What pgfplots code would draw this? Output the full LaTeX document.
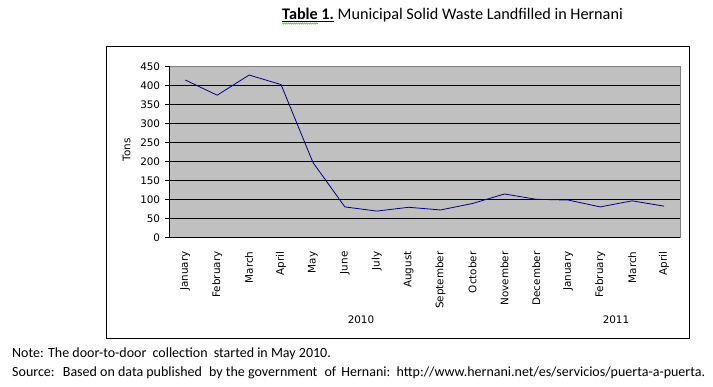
\documentclass[border=0pt]{standalone}
\usepackage{fontspec}
\setmainfont{Carlito}
\newfontfamily\tickfont{DejaVu Sans}
\usepackage{pgfplots}
\pgfplotsset{compat=1.18}
\usetikzlibrary{decorations.pathmorphing}
\definecolor{plotgray}{RGB}{192,192,192}
\definecolor{bordergray}{RGB}{128,128,128}
\definecolor{navyline}{RGB}{0,0,128}
\definecolor{spellgreen}{RGB}{60,160,60}
\newcommand{\tf}{\tickfont\fontsize{10.4}{12.5}\selectfont}
\begin{document}
\begin{tikzpicture}
\useasboundingbox (0,0) rectangle (713pt,-386pt);
\draw[black, line width=1pt] (106pt,-46pt) rectangle (689pt,-338pt);
\begin{axis}[
 at={(169.3pt,-237.3pt)}, anchor=south west,
 width=510.7pt, height=171pt, scale only axis,
 xmin=-0.5, xmax=15.5, ymin=0, ymax=450,
 axis lines*=left,
 axis line style={black, line width=0.8pt},
 axis background/.style={fill=plotgray, draw=bordergray, line width=0.8pt},
 xtick={0,...,15},
 xticklabels={January,February,March,April,May,June,July,August,September,October,November,December,January,February,March,April},
 x tick label style={rotate=90, anchor=east, inner sep=0pt, font=\tf},
 xticklabel shift=10pt,
 xtick style={draw=none},
 ytick={0,50,...,450},
 y tick label style={anchor=east, inner sep=0pt, font=\tf},
 yticklabel shift=5pt,
 tick align=outside,
 major tick length=4pt,
 ytick style={black, line width=0.8pt},
 extra y ticks={50,100,...,400},
 extra y tick labels={},
 extra y tick style={grid=major, major grid style={black, line width=0.8pt}, major tick length=0pt},
 /pgf/number format/assume math mode=true,
]
\addplot[navyline, line width=0.8pt] coordinates {
(0,414) (1,374) (2,427) (3,402) (4,197) (5,80) (6,69) (7,79)
(8,72) (9,89) (10,114) (11,100) (12,98) (13,80) (14,96) (15,82)
};
\end{axis}
\node[rotate=90, font=\tf, inner sep=0pt] at (126.7pt,-150pt) {Tons};
\node[anchor=base, font=\tf, inner sep=0pt] at (361pt,-323pt) {2010};
\node[anchor=base, font=\tf, inner sep=0pt] at (616pt,-323pt) {2011};
\node[anchor=base west, font=\fontsize{16.2}{19}\selectfont, inner sep=0pt] (title) at (282pt,-19.3pt) {\underline{\textbf{Table 1.}} Municipal Solid Waste Landfilled in Hernani};
\draw[spellgreen, line width=0.5pt, decorate, decoration={snake, amplitude=0.6pt, segment length=2pt}] (282pt,-23.5pt) -- (318pt,-23.5pt);
\node[anchor=base west, font=\fontsize{14}{17}\selectfont, inner sep=0pt] at (12pt,-357.7pt) {Note: The door-to-door\hspace{3pt} collection\hspace{3pt} started in May 2010.};
\node[anchor=base west, font=\fontsize{14}{17}\selectfont, inner sep=0pt] at (12pt,-376.7pt) {Source:\hspace{4pt} Based on data published\hspace{4pt} by the government\hspace{4pt} of\hspace{2pt} Hernani:\hspace{2pt} http://www.hernani.net/es/servicios/puerta-a-puerta.};
\end{tikzpicture}
\end{document}
